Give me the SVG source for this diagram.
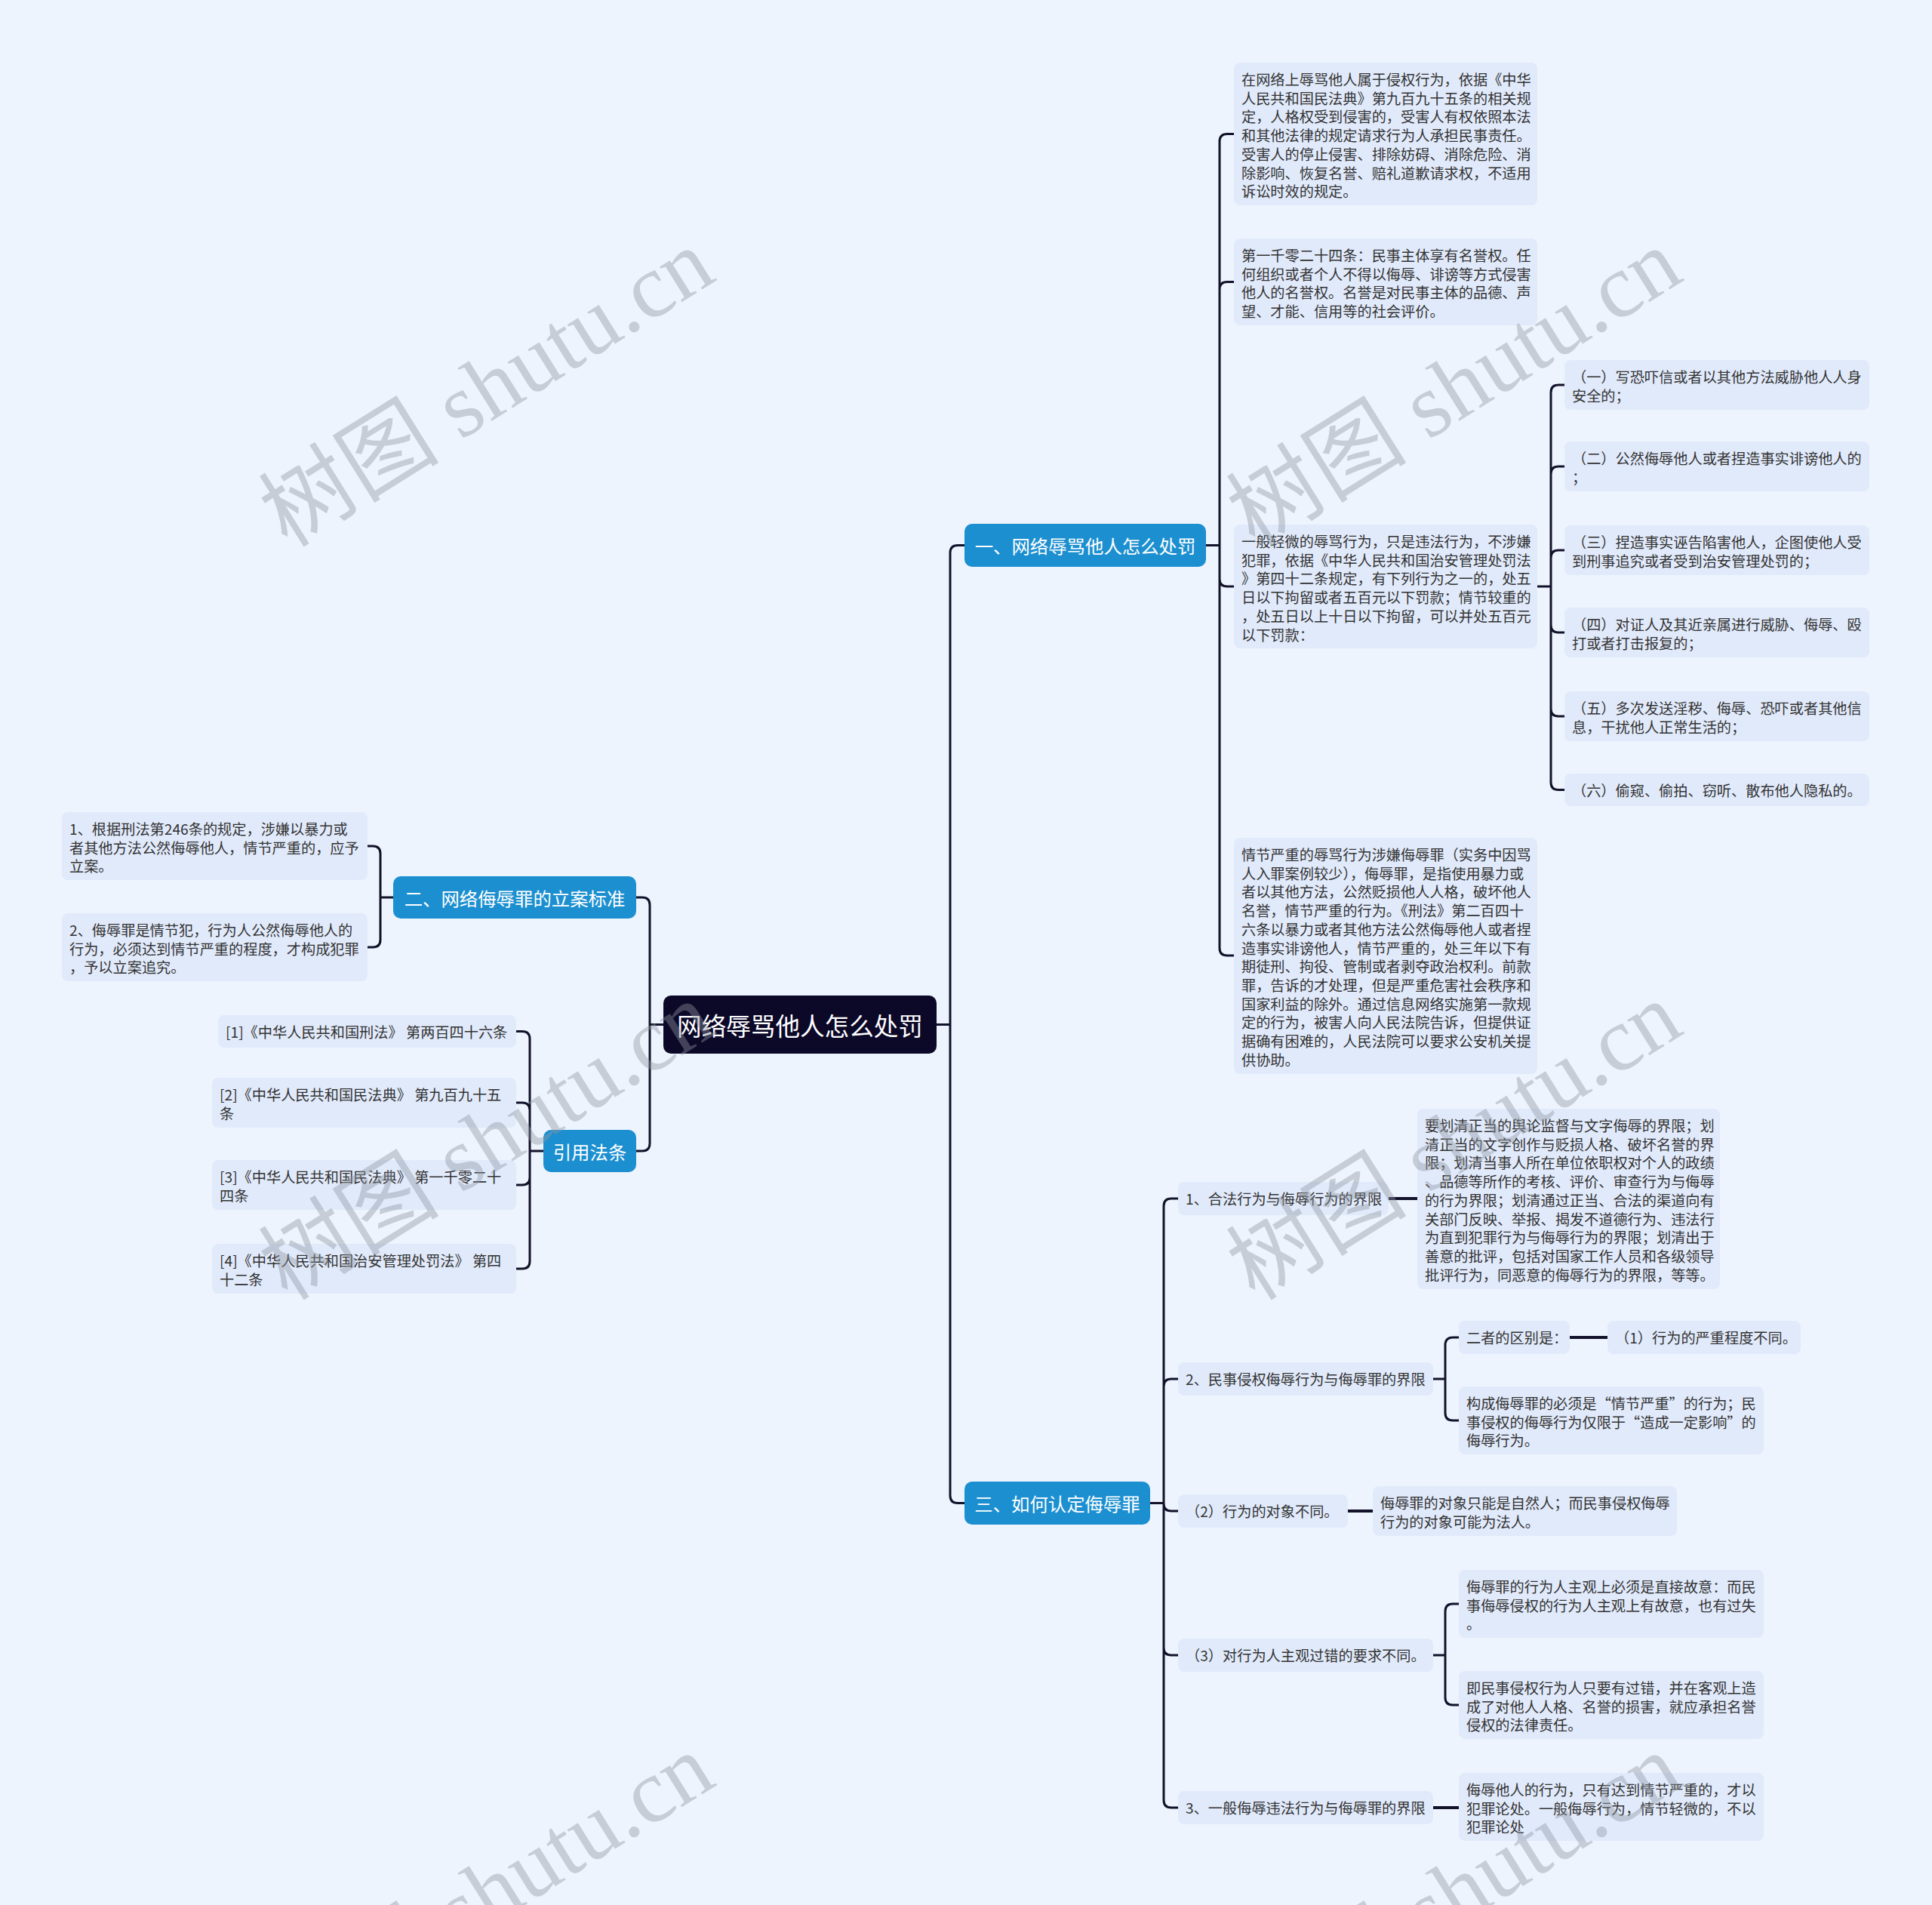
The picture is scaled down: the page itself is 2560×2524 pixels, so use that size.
<svg xmlns="http://www.w3.org/2000/svg" width="2560" height="2524" viewBox="0 0 2560 2524">
<style>
.bg{fill:#eef4fe}
.root rect{fill:#0b0828}
.branch rect{fill:#1c8fd0}
.leaf rect{fill:#e1eafb}
.tr{font-family:"Noto Sans CJK SC","Noto Sans",sans-serif;font-size:32.6px;fill:#ffffff;text-anchor:middle;dominant-baseline:central}
.tb{font-family:"Noto Sans CJK SC","Noto Sans",sans-serif;font-size:24.4px;fill:#ffffff;text-anchor:middle;dominant-baseline:central}
.tl{font-family:"Noto Sans CJK SC","Noto Sans",sans-serif;font-size:19.2px;fill:#333333;dominant-baseline:central}
.links path{fill:none;stroke:#12122a;stroke-width:3;stroke-linecap:round}
.links path.s{stroke-width:4}
.wm{font-family:"Liberation Serif","Noto Sans CJK SC",serif;font-size:120px;fill:#8f95a0;fill-opacity:0.42;text-anchor:middle;dominant-baseline:central}
</style>
<rect class="bg" x="0" y="0" width="2560" height="2524"/>

<g id="connectors" class="links">
<path d="M1241 1357.5 H1259 M1259 1357.5 V732.5 Q1259 722.5 1269 722.5 H1278 M1259 1357.5 V1981.5 Q1259 1991.5 1269 1991.5 H1278"/>
<path d="M879 1357.5 H861 M861 1357.5 V1199 Q861 1189 851 1189 H843 M861 1357.5 V1515 Q861 1525 851 1525 H843"/>
<path d="M1598 722.5 H1616 M1616 722.5 V187.5 Q1616 177.5 1626 177.5 H1635 M1616 722.5 V383.5 Q1616 373.5 1626 373.5 H1635 M1616 722.5 V767 Q1616 777 1626 777 H1635 M1616 722.5 V1256 Q1616 1266 1626 1266 H1635"/>
<path d="M2037 777 H2055 M2055 777 V520 Q2055 510 2065 510 H2073 M2055 777 V628 Q2055 618 2065 618 H2073 M2055 777 V739 Q2055 729 2065 729 H2073 M2055 777 V828 Q2055 838 2065 838 H2073 M2055 777 V939 Q2055 949 2065 949 H2073 M2055 777 V1036.5 Q2055 1046.5 2065 1046.5 H2073"/>
<path d="M521 1189 H504 M504 1189 V1131 Q504 1121 494 1121 H487 M504 1189 V1245 Q504 1255 494 1255 H487"/>
<path d="M720 1525 H702 M702 1525 V1376.5 Q702 1366.5 692 1366.5 H684 M702 1525 V1471 Q702 1461 692 1461 H684 M702 1525 V1560 Q702 1570 692 1570 H684 M702 1525 V1671 Q702 1681 692 1681 H684"/>
<path d="M1524 1991.5 H1542 M1542 1991.5 V1598 Q1542 1588 1552 1588 H1561 M1542 1991.5 V1837 Q1542 1827 1552 1827 H1561 M1542 1991.5 V1992 Q1542 2002 1552 2002 H1561 M1542 1991.5 V2183 Q1542 2193 1552 2193 H1561 M1542 1991.5 V2385 Q1542 2395 1552 2395 H1561"/>
<path d="M1899 1827 H1915 M1915 1827 V1782 Q1915 1772 1925 1772 H1933 M1915 1827 V1872 Q1915 1882 1925 1882 H1933"/>
<path d="M1899 2193 H1915 M1915 2193 V2135 Q1915 2125 1925 2125 H1933 M1915 2193 V2249 Q1915 2259 1925 2259 H1933"/>
<path class="s" d="M1840 1588 H1878"/>
<path class="s" d="M2080 1772 H2130"/>
<path class="s" d="M1786 2002 H1819"/>
<path class="s" d="M1899 2395 H1933"/>
</g>

<g id="root" class="root">
<rect x="879" y="1319" width="362" height="77" rx="10"/>
<text class="tr" x="1060" y="1357.5">网络辱骂他人怎么处罚</text>
</g>

<g id="b1" class="branch">
<rect x="1278" y="694" width="320" height="57" rx="10"/>
<text class="tb" x="1438" y="722.5">一、网络辱骂他人怎么处罚</text>
</g>
<g id="b2" class="branch">
<rect x="521" y="1161" width="322" height="56" rx="10"/>
<text class="tb" x="682" y="1189">二、网络侮辱罪的立案标准</text>
</g>
<g id="b3" class="branch">
<rect x="720" y="1497" width="123" height="56" rx="10"/>
<text class="tb" x="781.5" y="1525">引用法条</text>
</g>
<g id="b4" class="branch">
<rect x="1278" y="1963" width="246" height="57" rx="10"/>
<text class="tb" x="1401" y="1991.5">三、如何认定侮辱罪</text>
</g>

<g id="a1" class="leaf">
<rect x="1635" y="83" width="402" height="189" rx="8"/>
<text class="tl"><tspan x="1645" y="105">在网络上辱骂他人属于侵权行为，依据《中华</tspan><tspan x="1645" y="129.7">人民共和国民法典》第九百九十五条的相关规</tspan><tspan x="1645" y="154.4">定，人格权受到侵害的，受害人有权依照本法</tspan><tspan x="1645" y="179.1">和其他法律的规定请求行为人承担民事责任。</tspan><tspan x="1645" y="203.8">受害人的停止侵害、排除妨碍、消除危险、消</tspan><tspan x="1645" y="228.5">除影响、恢复名誉、赔礼道歉请求权，不适用</tspan><tspan x="1645" y="253.2">诉讼时效的规定。</tspan></text>
</g>
<g id="a2" class="leaf">
<rect x="1635" y="316" width="402" height="115" rx="8"/>
<text class="tl"><tspan x="1645" y="338">第一千零二十四条：民事主体享有名誉权。任</tspan><tspan x="1645" y="362.7">何组织或者个人不得以侮辱、诽谤等方式侵害</tspan><tspan x="1645" y="387.4">他人的名誉权。名誉是对民事主体的品德、声</tspan><tspan x="1645" y="412.1">望、才能、信用等的社会评价。</tspan></text>
</g>
<g id="a3" class="leaf">
<rect x="1635" y="695" width="402" height="164" rx="8"/>
<text class="tl"><tspan x="1645" y="717">一般轻微的辱骂行为，只是违法行为，不涉嫌</tspan><tspan x="1645" y="741.7">犯罪，依据《中华人民共和国治安管理处罚法</tspan><tspan x="1645" y="766.4">》第四十二条规定，有下列行为之一的，处五</tspan><tspan x="1645" y="791.1">日以下拘留或者五百元以下罚款；情节较重的</tspan><tspan x="1645" y="815.8">，处五日以上十日以下拘留，可以并处五百元</tspan><tspan x="1645" y="840.5">以下罚款：</tspan></text>
</g>
<g id="a4" class="leaf">
<rect x="1635" y="1110" width="402" height="313" rx="8"/>
<text class="tl"><tspan x="1645" y="1132">情节严重的辱骂行为涉嫌侮辱罪（实务中因骂</tspan><tspan x="1645" y="1156.7">人入罪案例较少），侮辱罪，是指使用暴力或</tspan><tspan x="1645" y="1181.4">者以其他方法，公然贬损他人人格，破坏他人</tspan><tspan x="1645" y="1206.1">名誉，情节严重的行为。《刑法》第二百四十</tspan><tspan x="1645" y="1230.8">六条以暴力或者其他方法公然侮辱他人或者捏</tspan><tspan x="1645" y="1255.5">造事实诽谤他人，情节严重的，处三年以下有</tspan><tspan x="1645" y="1280.2">期徒刑、拘役、管制或者剥夺政治权利。前款</tspan><tspan x="1645" y="1304.9">罪，告诉的才处理，但是严重危害社会秩序和</tspan><tspan x="1645" y="1329.6">国家利益的除外。通过信息网络实施第一款规</tspan><tspan x="1645" y="1354.3">定的行为，被害人向人民法院告诉，但提供证</tspan><tspan x="1645" y="1379">据确有困难的，人民法院可以要求公安机关提</tspan><tspan x="1645" y="1403.7">供协助。</tspan></text>
</g>

<g id="b1c1" class="leaf">
<rect x="2073" y="477" width="404" height="66" rx="8"/>
<text class="tl"><tspan x="2083" y="499">（一）写恐吓信或者以其他方法威胁他人人身</tspan><tspan x="2083" y="523.7">安全的；</tspan></text>
</g>
<g id="b1c2" class="leaf">
<rect x="2073" y="585" width="404" height="66" rx="8"/>
<text class="tl"><tspan x="2083" y="607">（二）公然侮辱他人或者捏造事实诽谤他人的</tspan><tspan x="2083" y="631.7">；</tspan></text>
</g>
<g id="b1c3" class="leaf">
<rect x="2073" y="696" width="404" height="66" rx="8"/>
<text class="tl"><tspan x="2083" y="718">（三）捏造事实诬告陷害他人，企图使他人受</tspan><tspan x="2083" y="742.7">到刑事追究或者受到治安管理处罚的；</tspan></text>
</g>
<g id="b1c4" class="leaf">
<rect x="2073" y="805" width="404" height="66" rx="8"/>
<text class="tl"><tspan x="2083" y="827">（四）对证人及其近亲属进行威胁、侮辱、殴</tspan><tspan x="2083" y="851.7">打或者打击报复的；</tspan></text>
</g>
<g id="b1c5" class="leaf">
<rect x="2073" y="916" width="404" height="66" rx="8"/>
<text class="tl"><tspan x="2083" y="938">（五）多次发送淫秽、侮辱、恐吓或者其他信</tspan><tspan x="2083" y="962.7">息，干扰他人正常生活的；</tspan></text>
</g>
<g id="b1c6" class="leaf">
<rect x="2073" y="1025" width="404" height="43" rx="8"/>
<text class="tl" x="2083" y="1046.5">（六）偷窥、偷拍、窃听、散布他人隐私的。</text>
</g>

<g id="d1" class="leaf">
<rect x="82" y="1076" width="405" height="90" rx="8"/>
<text class="tl"><tspan x="92" y="1098">1、根据刑法第246条的规定，涉嫌以暴力或</tspan><tspan x="92" y="1122.7">者其他方法公然侮辱他人，情节严重的，应予</tspan><tspan x="92" y="1147.4">立案。</tspan></text>
</g>
<g id="d2" class="leaf">
<rect x="82" y="1210" width="405" height="90" rx="8"/>
<text class="tl"><tspan x="92" y="1232">2、侮辱罪是情节犯，行为人公然侮辱他人的</tspan><tspan x="92" y="1256.7">行为，必须达到情节严重的程度，才构成犯罪</tspan><tspan x="92" y="1281.4">，予以立案追究。</tspan></text>
</g>

<g id="e1" class="leaf">
<rect x="289" y="1345" width="395" height="43" rx="8"/>
<text class="tl" x="299" y="1366.5">[1]《中华人民共和国刑法》 第两百四十六条</text>
</g>
<g id="e2" class="leaf">
<rect x="281" y="1428" width="403" height="66" rx="8"/>
<text class="tl"><tspan x="291" y="1450">[2]《中华人民共和国民法典》 第九百九十五</tspan><tspan x="291" y="1474.7">条</tspan></text>
</g>
<g id="e3" class="leaf">
<rect x="281" y="1537" width="403" height="66" rx="8"/>
<text class="tl"><tspan x="291" y="1559">[3]《中华人民共和国民法典》 第一千零二十</tspan><tspan x="291" y="1583.7">四条</tspan></text>
</g>
<g id="e4" class="leaf">
<rect x="281" y="1648" width="403" height="66" rx="8"/>
<text class="tl"><tspan x="291" y="1670">[4]《中华人民共和国治安管理处罚法》 第四</tspan><tspan x="291" y="1694.7">十二条</tspan></text>
</g>

<g id="c1" class="leaf">
<rect x="1561" y="1566" width="279" height="44" rx="8"/>
<text class="tl" x="1571" y="1588">1、合法行为与侮辱行为的界限</text>
</g>
<g id="c1a" class="leaf">
<rect x="1878" y="1469" width="401" height="239" rx="8"/>
<text class="tl"><tspan x="1888" y="1491">要划清正当的舆论监督与文字侮辱的界限；划</tspan><tspan x="1888" y="1515.7">清正当的文字创作与贬损人格、破坏名誉的界</tspan><tspan x="1888" y="1540.4">限；划清当事人所在单位依职权对个人的政绩</tspan><tspan x="1888" y="1565.1">、品德等所作的考核、评价、审查行为与侮辱</tspan><tspan x="1888" y="1589.8">的行为界限；划清通过正当、合法的渠道向有</tspan><tspan x="1888" y="1614.5">关部门反映、举报、揭发不道德行为、违法行</tspan><tspan x="1888" y="1639.2">为直到犯罪行为与侮辱行为的界限；划清出于</tspan><tspan x="1888" y="1663.9">善意的批评，包括对国家工作人员和各级领导</tspan><tspan x="1888" y="1688.6">批评行为，同恶意的侮辱行为的界限，等等。</tspan></text>
</g>
<g id="c2" class="leaf">
<rect x="1561" y="1805" width="338" height="44" rx="8"/>
<text class="tl" x="1571" y="1827">2、民事侵权侮辱行为与侮辱罪的界限</text>
</g>
<g id="c2a" class="leaf">
<rect x="1933" y="1750" width="147" height="44" rx="8"/>
<text class="tl" x="1943" y="1772">二者的区别是：</text>
</g>
<g id="c2a1" class="leaf">
<rect x="2130" y="1750" width="256" height="44" rx="8"/>
<text class="tl" x="2140" y="1772">（1）行为的严重程度不同。</text>
</g>
<g id="c2b" class="leaf">
<rect x="1933" y="1837" width="404" height="90" rx="8"/>
<text class="tl"><tspan x="1943" y="1859">构成侮辱罪的必须是“情节严重”的行为；民</tspan><tspan x="1943" y="1883.7">事侵权的侮辱行为仅限于“造成一定影响”的</tspan><tspan x="1943" y="1908.4">侮辱行为。</tspan></text>
</g>
<g id="c3" class="leaf">
<rect x="1561" y="1980" width="225" height="44" rx="8"/>
<text class="tl" x="1571" y="2002">（2）行为的对象不同。</text>
</g>
<g id="c3a" class="leaf">
<rect x="1819" y="1969" width="403" height="66" rx="8"/>
<text class="tl"><tspan x="1829" y="1991">侮辱罪的对象只能是自然人；而民事侵权侮辱</tspan><tspan x="1829" y="2015.7">行为的对象可能为法人。</tspan></text>
</g>
<g id="c4" class="leaf">
<rect x="1561" y="2171" width="338" height="44" rx="8"/>
<text class="tl" x="1571" y="2193">（3）对行为人主观过错的要求不同。</text>
</g>
<g id="c4a" class="leaf">
<rect x="1933" y="2080" width="404" height="90" rx="8"/>
<text class="tl"><tspan x="1943" y="2102">侮辱罪的行为人主观上必须是直接故意：而民</tspan><tspan x="1943" y="2126.7">事侮辱侵权的行为人主观上有故意，也有过失</tspan><tspan x="1943" y="2151.4">。</tspan></text>
</g>
<g id="c4b" class="leaf">
<rect x="1933" y="2214" width="404" height="90" rx="8"/>
<text class="tl"><tspan x="1943" y="2236">即民事侵权行为人只要有过错，并在客观上造</tspan><tspan x="1943" y="2260.7">成了对他人人格、名誉的损害，就应承担名誉</tspan><tspan x="1943" y="2285.4">侵权的法律责任。</tspan></text>
</g>
<g id="c5" class="leaf">
<rect x="1561" y="2373" width="338" height="44" rx="8"/>
<text class="tl" x="1571" y="2395">3、一般侮辱违法行为与侮辱罪的界限</text>
</g>
<g id="c5a" class="leaf">
<rect x="1933" y="2349" width="404" height="90" rx="8"/>
<text class="tl"><tspan x="1943" y="2371">侮辱他人的行为，只有达到情节严重的，才以</tspan><tspan x="1943" y="2395.7">犯罪论处。一般侮辱行为，情节轻微的，不以</tspan><tspan x="1943" y="2420.4">犯罪论处</tspan></text>
</g>

<g id="watermarks">
<text class="wm" x="645" y="514" transform="rotate(-32 645 514)">树图 shutu.cn</text>
<text class="wm" x="1927" y="514" transform="rotate(-32 1927 514)">树图 shutu.cn</text>
<text class="wm" x="645" y="1512" transform="rotate(-32 645 1512)">树图 shutu.cn</text>
<text class="wm" x="1927" y="1512" transform="rotate(-32 1927 1512)">树图 shutu.cn</text>
<text class="wm" x="645" y="2508" transform="rotate(-32 645 2508)">树图 shutu.cn</text>
<text class="wm" x="1927" y="2508" transform="rotate(-32 1927 2508)">树图 shutu.cn</text>
</g>
</svg>
